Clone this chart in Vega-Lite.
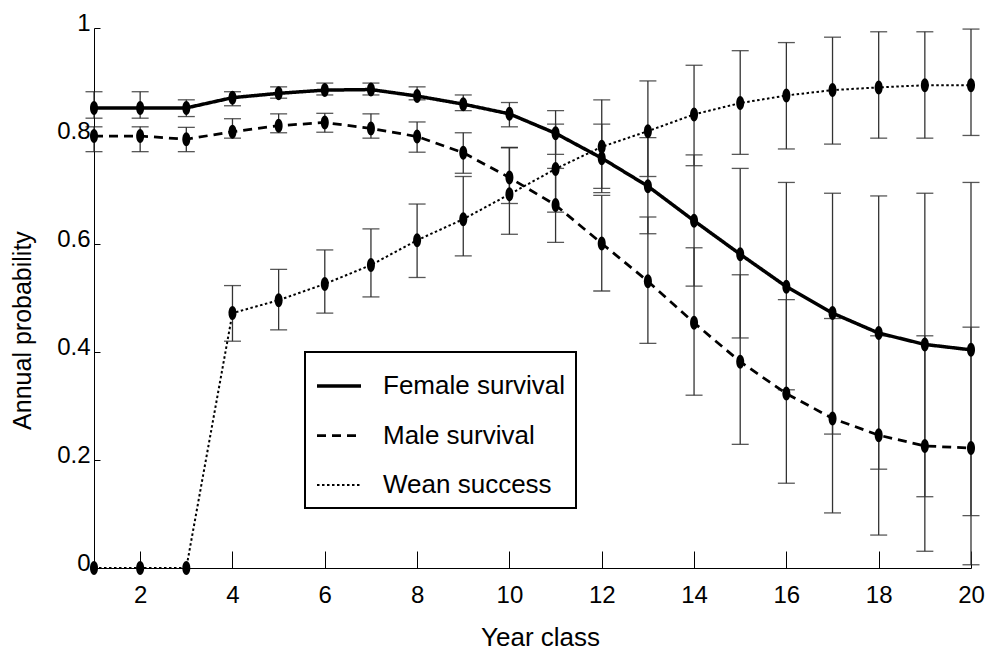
{
  "$schema": "https://vega.github.io/schema/vega-lite/v6.json",
  "width": 877,
  "height": 540,
  "autosize": {"type": "none"},
  "padding": {"left": 94, "top": 28, "right": 17, "bottom": 84},
  "background": "white",
  "config": {
    "view": {"stroke": null},
    "font": "Liberation Sans",
    "axis": {
      "grid": false,
      "domainColor": "black",
      "domainWidth": 1,
      "tickColor": "black",
      "tickWidth": 1,
      "labelColor": "black",
      "titleColor": "black",
      "labelFont": "Liberation Sans",
      "titleFont": "Liberation Sans",
      "labelFontSize": 24,
      "titleFontWeight": "normal",
      "labelFlush": false,
      "labelOverlap": false,
      "labelBound": false
    },
    "legend": {
      "orient": "none",
      "legendX": 211,
      "legendY": 324,
      "strokeColor": "black",
      "strokeWidth": 2,
      "fillColor": "white",
      "padding": 10,
      "symbolType": "stroke",
      "symbolSize": 1936,
      "symbolStrokeColor": "black",
      "labelFont": "Liberation Sans",
      "labelFontSize": 26,
      "labelColor": "black",
      "labelOffset": 20,
      "rowPadding": 13,
      "labelLimit": 400
    }
  },
  "data": {
    "values": [
      {"year": 1, "series": "Female survival", "p": 0.852, "lo": 0.833, "hi": 0.882},
      {"year": 2, "series": "Female survival", "p": 0.852, "lo": 0.833, "hi": 0.882},
      {"year": 3, "series": "Female survival", "p": 0.852, "lo": 0.836, "hi": 0.867},
      {"year": 4, "series": "Female survival", "p": 0.871, "lo": 0.856, "hi": 0.882},
      {"year": 5, "series": "Female survival", "p": 0.879, "lo": 0.870, "hi": 0.891},
      {"year": 6, "series": "Female survival", "p": 0.885, "lo": 0.876, "hi": 0.898},
      {"year": 7, "series": "Female survival", "p": 0.886, "lo": 0.876, "hi": 0.898},
      {"year": 8, "series": "Female survival", "p": 0.874, "lo": 0.867, "hi": 0.891},
      {"year": 9, "series": "Female survival", "p": 0.859, "lo": 0.847, "hi": 0.876},
      {"year": 10, "series": "Female survival", "p": 0.841, "lo": 0.817, "hi": 0.862},
      {"year": 11, "series": "Female survival", "p": 0.805, "lo": 0.766, "hi": 0.847},
      {"year": 12, "series": "Female survival", "p": 0.759, "lo": 0.695, "hi": 0.822},
      {"year": 13, "series": "Female survival", "p": 0.707, "lo": 0.619, "hi": 0.797},
      {"year": 14, "series": "Female survival", "p": 0.643, "lo": 0.522, "hi": 0.765},
      {"year": 15, "series": "Female survival", "p": 0.581, "lo": 0.426, "hi": 0.740},
      {"year": 16, "series": "Female survival", "p": 0.521, "lo": 0.330, "hi": 0.714},
      {"year": 17, "series": "Female survival", "p": 0.472, "lo": 0.248, "hi": 0.694},
      {"year": 18, "series": "Female survival", "p": 0.435, "lo": 0.183, "hi": 0.689},
      {"year": 19, "series": "Female survival", "p": 0.414, "lo": 0.132, "hi": 0.694},
      {"year": 20, "series": "Female survival", "p": 0.404, "lo": 0.097, "hi": 0.714},
      {"year": 1, "series": "Male survival", "p": 0.800, "lo": 0.771, "hi": 0.817},
      {"year": 2, "series": "Male survival", "p": 0.800, "lo": 0.771, "hi": 0.817},
      {"year": 3, "series": "Male survival", "p": 0.794, "lo": 0.771, "hi": 0.816},
      {"year": 4, "series": "Male survival", "p": 0.808, "lo": 0.796, "hi": 0.832},
      {"year": 5, "series": "Male survival", "p": 0.819, "lo": 0.806, "hi": 0.841},
      {"year": 6, "series": "Male survival", "p": 0.825, "lo": 0.807, "hi": 0.842},
      {"year": 7, "series": "Male survival", "p": 0.814, "lo": 0.796, "hi": 0.841},
      {"year": 8, "series": "Male survival", "p": 0.799, "lo": 0.770, "hi": 0.826},
      {"year": 9, "series": "Male survival", "p": 0.769, "lo": 0.731, "hi": 0.806},
      {"year": 10, "series": "Male survival", "p": 0.723, "lo": 0.675, "hi": 0.778},
      {"year": 11, "series": "Male survival", "p": 0.672, "lo": 0.603, "hi": 0.740},
      {"year": 12, "series": "Male survival", "p": 0.601, "lo": 0.513, "hi": 0.690},
      {"year": 13, "series": "Male survival", "p": 0.531, "lo": 0.416, "hi": 0.650},
      {"year": 14, "series": "Male survival", "p": 0.454, "lo": 0.320, "hi": 0.593},
      {"year": 15, "series": "Male survival", "p": 0.382, "lo": 0.229, "hi": 0.543},
      {"year": 16, "series": "Male survival", "p": 0.323, "lo": 0.157, "hi": 0.497},
      {"year": 17, "series": "Male survival", "p": 0.277, "lo": 0.102, "hi": 0.462},
      {"year": 18, "series": "Male survival", "p": 0.246, "lo": 0.061, "hi": 0.430},
      {"year": 19, "series": "Male survival", "p": 0.226, "lo": 0.031, "hi": 0.430},
      {"year": 20, "series": "Male survival", "p": 0.222, "lo": 0.006, "hi": 0.446},
      {"year": 1, "series": "Wean success", "p": 0, "lo": null, "hi": null},
      {"year": 2, "series": "Wean success", "p": 0, "lo": null, "hi": null},
      {"year": 3, "series": "Wean success", "p": 0, "lo": null, "hi": null},
      {"year": 4, "series": "Wean success", "p": 0.472, "lo": 0.420, "hi": 0.523},
      {"year": 5, "series": "Wean success", "p": 0.496, "lo": 0.441, "hi": 0.553},
      {"year": 6, "series": "Wean success", "p": 0.526, "lo": 0.472, "hi": 0.589},
      {"year": 7, "series": "Wean success", "p": 0.561, "lo": 0.502, "hi": 0.628},
      {"year": 8, "series": "Wean success", "p": 0.607, "lo": 0.538, "hi": 0.674},
      {"year": 9, "series": "Wean success", "p": 0.646, "lo": 0.578, "hi": 0.725},
      {"year": 10, "series": "Wean success", "p": 0.692, "lo": 0.618, "hi": 0.779},
      {"year": 11, "series": "Wean success", "p": 0.739, "lo": 0.659, "hi": 0.822},
      {"year": 12, "series": "Wean success", "p": 0.780, "lo": 0.703, "hi": 0.867},
      {"year": 13, "series": "Wean success", "p": 0.809, "lo": 0.725, "hi": 0.902},
      {"year": 14, "series": "Wean success", "p": 0.840, "lo": 0.745, "hi": 0.931},
      {"year": 15, "series": "Wean success", "p": 0.861, "lo": 0.766, "hi": 0.958},
      {"year": 16, "series": "Wean success", "p": 0.875, "lo": 0.776, "hi": 0.973},
      {"year": 17, "series": "Wean success", "p": 0.885, "lo": 0.785, "hi": 0.983},
      {"year": 18, "series": "Wean success", "p": 0.890, "lo": 0.796, "hi": 0.993},
      {"year": 19, "series": "Wean success", "p": 0.894, "lo": 0.796, "hi": 0.993},
      {"year": 20, "series": "Wean success", "p": 0.894, "lo": 0.801, "hi": 0.998}
    ]
  },
  "encoding": {
    "x": {
      "field": "year",
      "type": "quantitative",
      "scale": {"domain": [1, 20], "nice": false, "zero": false},
      "axis": {
        "title": "Year class",
        "values": [2, 4, 6, 8, 10, 12, 14, 16, 18, 20],
        "tickSize": -17,
        "labelPadding": 32,
        "titleFontSize": 26,
        "titleX": 446,
        "titleY": 77,
        "titleBaseline": "alphabetic",
        "titleAlign": "center"
      }
    }
  },
  "layer": [
    {
      "mark": {"type": "line", "color": "black"},
      "encoding": {
        "y": {
          "field": "p",
          "type": "quantitative",
          "title": "Annual probability",
          "scale": {"domain": [0, 1], "nice": false},
          "axis": {
            "values": [0, 0.2, 0.4, 0.6, 0.8, 1],
            "format": "~g",
            "tickSize": -6,
            "labelPadding": 10,
            "labelOffset": -5,
            "titleFontSize": 25,
            "titleAngle": -90,
            "titleX": -64,
            "titleY": 302,
            "titleBaseline": "alphabetic",
            "titleAlign": "center"
          }
        },
        "strokeDash": {
          "field": "series",
          "type": "nominal",
          "scale": {
            "domain": ["Female survival", "Male survival", "Wean success"],
            "range": [[1, 0], [9, 6], [2.5, 2.5]]
          },
          "legend": {"title": null}
        },
        "strokeWidth": {
          "field": "series",
          "type": "nominal",
          "scale": {
            "domain": ["Female survival", "Male survival", "Wean success"],
            "range": [3.5, 2, 2.5]
          },
          "legend": {"title": null}
        }
      }
    },
    {
      "transform": [{"filter": "datum.lo != null"}],
      "mark": {
        "type": "errorbar",
        "color": "#333333",
        "thickness": 1.3,
        "ticks": {"size": 17, "color": "#111111"}
      },
      "encoding": {
        "y": {"field": "lo", "type": "quantitative", "title": "Annual probability"},
        "y2": {"field": "hi"}
      }
    },
    {
      "mark": {
        "type": "point",
        "filled": true,
        "color": "black",
        "opacity": 1,
        "size": 196,
        "shape": "M0,-1A0.57,1,0,1,1,0,1A0.57,1,0,1,1,0,-1Z"
      },
      "encoding": {
        "y": {"field": "p", "type": "quantitative", "title": "Annual probability"}
      }
    }
  ]
}
